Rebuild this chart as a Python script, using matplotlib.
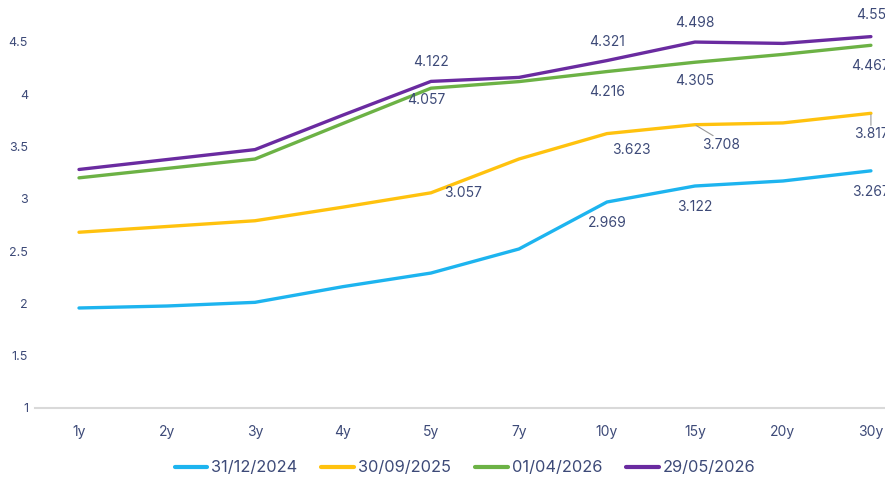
import matplotlib.pyplot as plt

plt.rcParams["font.family"] = ["Inter", "DejaVu Sans"]

tenors = ["1y", "2y", "3y", "4y", "5y", "7y", "10y", "15y", "20y", "30y"]
dates = ["31/12/2024", "30/09/2025", "01/04/2026", "29/05/2026"]

y_2024_12 = [1.956, 1.975, 2.01, 2.16, 2.29, 2.52, 2.969, 3.122, 3.17, 3.267]
y_2025_09 = [2.68, 2.735, 2.79, 2.92, 3.057, 3.38, 3.623, 3.708, 3.725, 3.817]
y_2026_04 = [3.20, 3.29, 3.38, 3.72, 4.057, 4.12, 4.216, 4.305, 4.38, 4.467]
y_2026_05 = [3.28, 3.375, 3.47, 3.80, 4.122, 4.16, 4.321, 4.498, 4.485, 4.55]

series = [y_2024_12, y_2025_09, y_2026_04, y_2026_05]
colors = ["#1db4ef", "#ffc20e", "#6cb245", "#6a2ba0"]

labelled = [4, 6, 7, 9]  # 5y, 10y, 15y, 30y
# label offsets in pixels (dx, dy down) per series / labelled point
offsets = [
    [None, (0, 21), (0, 21), (0, 21)],
    [(32, 0), (24, 16), (26, 20), (0, 21)],
    [(-5, 12), (0, 20), (0, 19), (0, 21)],
    [(0, -19), (0, -19), (0, -19), (0, -22)],
]
leaders = {(1, 7), (1, 9)}

text_col = "#3d4a78"
px = 0.72  # points per pixel at dpi 100

fig = plt.figure(figsize=(8.85, 4.82), dpi=100)
ax = fig.add_axes([35 / 885, 74 / 482, 850 / 885, 408 / 482])

x = list(range(len(tenors)))
for i, (vals, c) in enumerate(zip(series, colors)):
    ax.plot(x, vals, color=c, lw=2.4, solid_joinstyle="round",
            solid_capstyle="round", label=dates[i], zorder=3)
    for k, idx in enumerate(labelled):
        off = offsets[i][k]
        if off is None:
            continue
        v = vals[idx]
        txt = f"{v:.3f}".rstrip("0")
        ax.annotate(txt, (idx, v), xytext=(off[0] * px, -off[1] * px),
                    textcoords="offset points", ha="center", va="center",
                    fontsize=10, color=text_col, annotation_clip=False)
        if (i, idx) in leaders:
            dx, dy = off
            ax.annotate("", (idx, v), xytext=(dx * 0.7 * px, -(dy - 9) * px),
                        textcoords="offset points",
                        arrowprops=dict(arrowstyle="-", color="#999999", lw=0.8,
                                        shrinkA=0, shrinkB=1))

ax.set_xlim(-0.5, 9.16)
ax.set_ylim(1, 4.9)
ax.set_xticks(x)
ax.set_xticklabels(tenors)
ax.set_yticks([1, 1.5, 2, 2.5, 3, 3.5, 4, 4.5])
ax.set_yticklabels(["1", "1.5", "2", "2.5", "3", "3.5", "4", "4.5"])
ax.tick_params(axis="both", length=0, colors=text_col)
ax.tick_params(axis="x", labelsize=10, pad=12)
ax.tick_params(axis="y", labelsize=9, pad=5)

for s in ["top", "right", "left"]:
    ax.spines[s].set_visible(False)
ax.spines["bottom"].set_color("#d9d9d9")
ax.spines["bottom"].set_linewidth(1.5)

leg = fig.legend(loc="center", bbox_to_anchor=(465 / 885, 1 - 468 / 482),
                 ncol=4, frameon=False, fontsize=11.8, handlelength=2.0,
                 handletextpad=0.25, columnspacing=1.45, labelcolor=text_col)
for h in leg.get_lines():
    h.set_linewidth(3)

fig.savefig("out.png", dpi=100)
